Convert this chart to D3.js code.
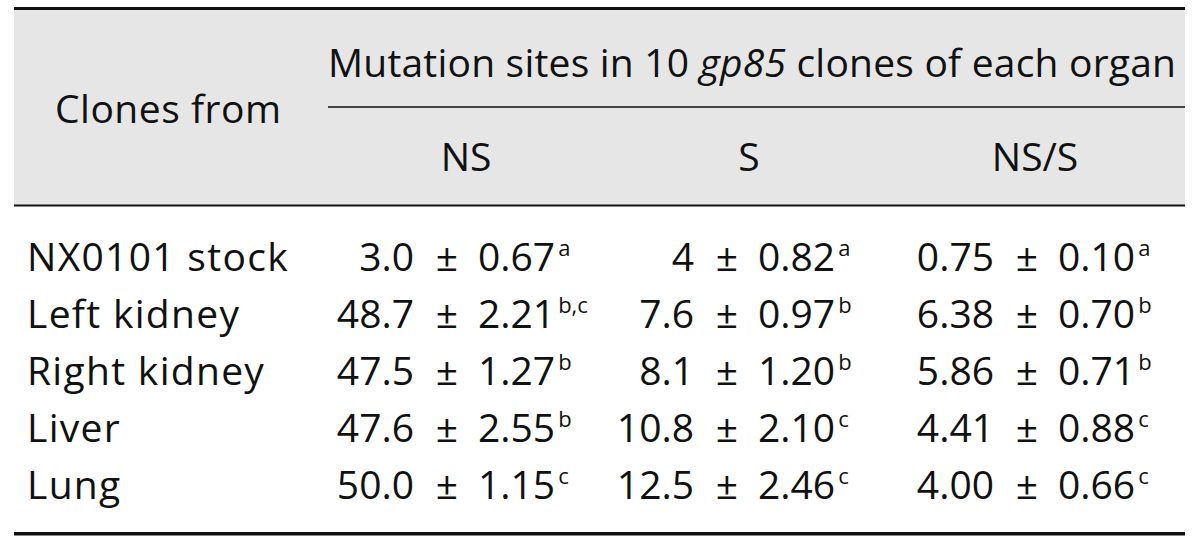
<!DOCTYPE html>
<html><head><meta charset="utf-8">
<script src="https://cdn.jsdelivr.net/npm/d3@7/dist/d3.min.js"></script>
<style>html,body{margin:0;padding:0;background:#fff}svg{display:block}text{font-family:"Open Sans","Noto Sans",sans-serif;fill:#111;font-variant-ligatures:none;font-feature-settings:"liga" 0}</style>
</head><body><svg id="c" width="1200" height="543"></svg>
<script>
const organs = ["NX0101 stock","Left kidney","Right kidney","Liver","Lung"];
const columns = ["NS","S","NS/S"];
const nsMean = ["3.0","48.7","47.5","47.6","50.0"];
const nsSE   = ["0.67","2.21","1.27","2.55","1.15"];
const nsSup  = ["a","b,c","b","b","c"];
const sMean  = ["4","7.6","8.1","10.8","12.5"];
const sSE    = ["0.82","0.97","1.20","2.10","2.46"];
const sSup   = ["a","b","b","c","c"];
const rMean  = ["0.75","6.38","5.86","4.41","4.00"];
const rSE    = ["0.10","0.70","0.71","0.88","0.66"];
const rSup   = ["a","b","b","c","c"];
const stubHeader = "Clones from";
const spanHeader = ["Mutation sites in 10 ","gp85"," clones of each organ"];

const means = [nsMean, sMean, rMean], ses = [nsSE, sSE, rSE], sups = [nsSup, sSup, rSup];

const svg = d3.select("#c");
const FS = 39;
const left = 14, right = 1185;

const y = d3.scalePoint().domain(organs).range([271, 499]);
const xPm = d3.scaleOrdinal().domain(columns).range([447, 727, 1027]);
const xHead = d3.scaleOrdinal().domain(columns).range([466, 749, 1035]);

svg.append("rect").attr("x", left).attr("y", 9).attr("width", right-left).attr("height", 196).attr("fill", "#e6e6e6");
svg.append("line").attr("x1", left).attr("x2", right).attr("y1", 8.5).attr("y2", 8.5).attr("stroke", "#111").attr("stroke-width", 3);
svg.append("line").attr("x1", left).attr("x2", right).attr("y1", 205.5).attr("y2", 205.5).attr("stroke", "#111").attr("stroke-width", 2);
svg.append("line").attr("x1", 328).attr("x2", right).attr("y1", 107).attr("y2", 107).attr("stroke", "#111").attr("stroke-width", 1.5);
svg.append("line").attr("x1", left).attr("x2", right).attr("y1", 533.8).attr("y2", 533.8).attr("stroke", "#111").attr("stroke-width", 3.5);

svg.append("text").attr("x", 55).attr("y", 123).attr("font-size", FS).attr("letter-spacing", 0.5).text(stubHeader);
const sh = svg.append("text").attr("x", 328).attr("y", 77).attr("font-size", FS).attr("letter-spacing", 0.2);
sh.append("tspan").text(spanHeader[0]);
sh.append("tspan").attr("font-style", "italic").text(spanHeader[1]);
sh.append("tspan").text(spanHeader[2]);

svg.selectAll("text.colh").data(columns).join("text").attr("class","colh")
  .attr("x", d => xHead(d)).attr("y", 171).attr("text-anchor","middle").attr("font-size", FS).text(d => d);

svg.selectAll("text.rowl").data(organs).join("text").attr("class","rowl")
  .attr("x", 27).attr("y", d => y(d)).attr("font-size", FS).attr("letter-spacing", 1.3).text(d => d);

columns.forEach((c, ci) => {
  const g = svg.append("g");
  organs.forEach((o, ri) => {
    const yy = y(o), xx = xPm(c);
    g.append("text").attr("x", xx - 33).attr("y", yy).attr("text-anchor","end").attr("font-size", FS).text(means[ci][ri]);
    g.append("text").attr("x", xx).attr("y", yy).attr("text-anchor","middle").attr("font-size", FS).text("±");
    const t = g.append("text").attr("x", xx + 31).attr("y", yy).attr("font-size", FS);
    t.append("tspan").text(ses[ci][ri]);
    t.append("tspan").attr("font-size", 22).attr("dx", 3).attr("dy", -15).text(sups[ci][ri]);
  });
});
</script></body></html>
